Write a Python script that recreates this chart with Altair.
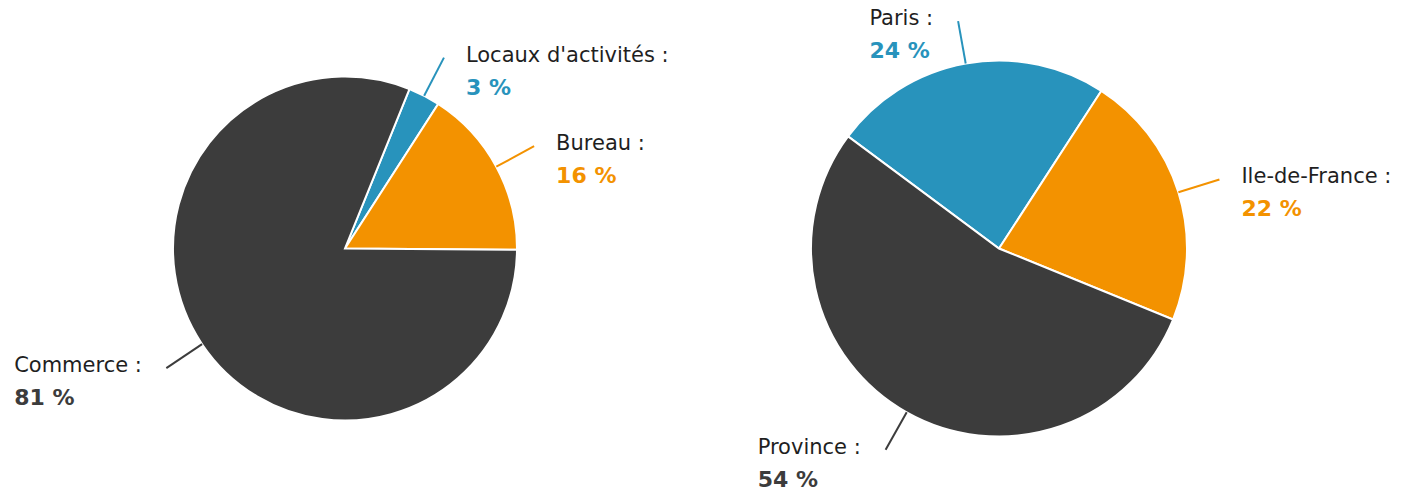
import math
import altair as alt
import pandas as pd

# ---- data ----
left_cats = ["Locaux d'activités", "Bureau", "Commerce"]
left_vals = [3, 16, 81]
right_cats = ["Paris", "Ile-de-France", "Province"]
right_vals = [24, 22, 54]
slice_colors = ["#2893bc", "#f39200", "#3c3c3c"]

# ---- style ----
FONT = "DejaVu Sans"
FS = 21
FS_BOLD = 22
GAP_R = 22
GAP_L = 24
LINE_LEN = 43
H = 481

# DejaVu Sans advance widths (em) used to right-align label blocks on the left side
CW = {" ": 0.318, ":": 0.337, "C": 0.698, "o": 0.612, "m": 0.974, "e": 0.615,
      "r": 0.411, "c": 0.550, "P": 0.603, "v": 0.592, "i": 0.278, "n": 0.634,
      "a": 0.613, "s": 0.521, "L": 0.557, "u": 0.634, "x": 0.592, "d": 0.635,
      "'": 0.275, "t": 0.392, "é": 0.615, "B": 0.686, "I": 0.295, "l": 0.278,
      "-": 0.361, "F": 0.575}


def text_w(s):
    return sum(CW.get(c, 0.6) for c in s) * FS


def pie(cats, vals, radius, start_deg, width):
    df = pd.DataFrame({
        "cat": cats,
        "v": vals,
        "idx": list(range(len(cats))),
        "name": [c + " :" for c in cats],
        "pct": [f"{v} %" for v in vals],
        "lw": [text_w(c + " :") for c in cats],
    })
    a0 = math.radians(start_deg)
    base = alt.Chart(df)
    color = alt.Color("cat:N", scale=alt.Scale(domain=cats, range=slice_colors), legend=None)

    arcs = base.mark_arc(outerRadius=radius, stroke="white", strokeWidth=2).encode(
        theta=alt.Theta("v:Q", stack=True, scale=alt.Scale(range=[a0, a0 + 2 * math.pi])),
        order=alt.Order("idx:Q"),
        color=color,
    )

    geo = base.transform_joinaggregate(total="sum(v)").transform_window(
        cum="sum(v)", sort=[alt.SortField("idx")], frame=[None, 0]
    ).transform_calculate(
        mid=f"{a0} + 2*PI*(datum.cum - datum.v/2)/datum.total"
    ).transform_calculate(
        x1=f"{radius}*sin(datum.mid)",
        y1=f"{radius}*cos(datum.mid)",
        x2=f"{radius + LINE_LEN}*sin(datum.mid)",
        y2=f"{radius + LINE_LEN}*cos(datum.mid)",
    ).transform_calculate(
        lx=f"datum.x2 > 0 ? datum.x2 + {GAP_R} : datum.x2 - {GAP_L} - datum.lw"
    )

    xs = alt.Scale(domain=[-width / 2, width / 2], nice=False, zero=False)
    ys = alt.Scale(domain=[-H / 2, H / 2], nice=False, zero=False)

    rules = geo.mark_rule(strokeWidth=2).encode(
        x=alt.X("x1:Q", scale=xs, axis=None),
        y=alt.Y("y1:Q", scale=ys, axis=None),
        x2="x2:Q",
        y2="y2:Q",
        color=color,
    )
    names = geo.mark_text(align="left", baseline="middle", font=FONT, fontSize=FS,
                          color="#1f1f1f", dy=-2).encode(
        x=alt.X("lx:Q", scale=xs, axis=None),
        y=alt.Y("y2:Q", scale=ys, axis=None),
        text="name:N",
    )
    pcts = geo.mark_text(align="left", baseline="middle", font=FONT, fontSize=FS_BOLD,
                         fontWeight="bold", dy=30).encode(
        x=alt.X("lx:Q", scale=xs, axis=None),
        y=alt.Y("y2:Q", scale=ys, axis=None),
        text="pct:N",
        color=color,
    )
    return alt.layer(arcs, rules, names, pcts).properties(width=width, height=H)


left = pie(left_cats, left_vals, 172, 22, 674)
right = pie(right_cats, right_vals, 188, 306.6, 634)

chart = alt.hconcat(left, right, spacing=0, bounds="flush").resolve_scale(
    color="independent", x="independent", y="independent", theta="independent"
).configure_view(stroke=None).properties(padding=0)

chart.save("out.html", embed_options={"renderer": "svg", "actions": False})
